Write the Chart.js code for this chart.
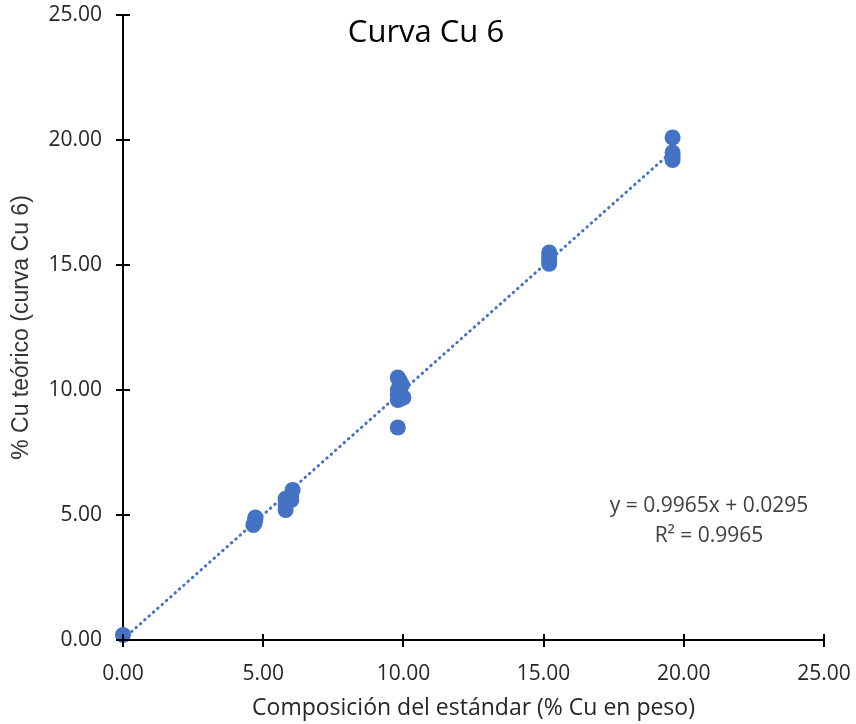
<!DOCTYPE html>
<html lang="es">
<head>
<meta charset="utf-8">
<title>Curva Cu 6</title>
<script src="https://cdn.jsdelivr.net/npm/chart.js@4.4.1/dist/chart.umd.min.js"></script>
<style>
  html, body { margin: 0; padding: 0; background: #fff; }
  #wrap { width: 856px; height: 724px; position: relative; }
</style>
</head>
<body>
<div id="wrap"><canvas id="curvaChart"></canvas></div>
<script>
// lecturas: composición del estándar (% Cu en peso) frente a % Cu teórico
const composicion = [0.00,
  4.65, 4.70, 4.72, 4.72,
  5.80, 5.80, 5.80, 6.00, 6.00, 6.05,
  9.80, 9.85, 9.90, 9.95, 9.80, 9.80, 9.90, 10.00, 9.80, 9.80,
  15.20, 15.20, 15.20, 15.20,
  19.60, 19.60, 19.60, 19.60];
const teorico = [0.20,
  4.60, 4.70, 4.85, 4.90,
  5.20, 5.40, 5.65, 5.60, 5.75, 6.00,
  10.50, 10.40, 10.30, 10.20, 10.00, 9.80, 9.65, 9.70, 9.60, 8.50,
  15.50, 15.35, 15.20, 15.05,
  20.10, 19.50, 19.35, 19.20];

const ejeTicks = [0, 5, 10, 15, 20, 25];

// línea de tendencia lineal
const pendiente = 0.9965;
const intercepto = 0.0295;
const r2 = 0.9965;

const AZUL = '#4472C4';
Chart.defaults.font.family = "'Open Sans', sans-serif";

const puntos = composicion.map((x, i) => ({ x: x, y: teorico[i] }));
const xMin = Math.min(...composicion);
const xMax = Math.max(...composicion);
const tendencia = [
  { x: xMin, y: pendiente * xMin + intercepto },
  { x: xMax, y: pendiente * xMax + intercepto }
];

// sin márgenes extra por las etiquetas: el área la fija layout.padding
function ajustarEje(s, ancho, alto) {
  if (ancho) s.width = ancho;
  if (alto) s.height = alto;
  s.paddingTop = 0;
  s.paddingBottom = 0;
  s.paddingLeft = 0;
  s.paddingRight = 0;
}

// marcas cruzadas en los ejes, título y ecuación
const decoracion = {
  id: 'decoracion',
  afterDraw(chart) {
    const ctx = chart.ctx;
    const sx = chart.scales.x, sy = chart.scales.y;
    const y0 = sy.getPixelForValue(0);
    const x0 = sx.getPixelForValue(0);
    ctx.save();
    ctx.strokeStyle = '#000';
    ctx.lineWidth = 2;
    ctx.beginPath();
    ejeTicks.forEach(v => {
      const px = Math.round(sx.getPixelForValue(v));
      ctx.moveTo(px, y0 - 6); ctx.lineTo(px, y0 + 7);
      const py = Math.round(sy.getPixelForValue(v));
      ctx.moveTo(x0 - 7, py); ctx.lineTo(x0 + 7, py);
    });
    ctx.stroke();

    ctx.fillStyle = '#000';
    ctx.textAlign = 'center';
    ctx.textBaseline = 'alphabetic';
    ctx.font = "31px 'Open Sans'";
    ctx.fillText('Curva Cu 6', 426, 42);

    ctx.fillStyle = '#404040';
    ctx.font = "21px 'Open Sans'";
    ctx.fillText('y = ' + pendiente.toFixed(4) + 'x + ' + intercepto.toFixed(4), 709, 512);
    ctx.fillText('R² = ' + r2.toFixed(4), 709, 542);
    ctx.restore();
  }
};

const ctxCurva = document.getElementById('curvaChart').getContext('2d');
const curvaChart = new Chart(ctxCurva, {
  type: 'scatter',
  data: {
    datasets: [{
      label: 'Curva Cu 6',
      data: puntos,
      backgroundColor: AZUL,
      borderWidth: 0,
      pointRadius: 8,
      pointHoverRadius: 8,
      clip: false
    }, {
      label: 'Lineal',
      data: tendencia,
      showLine: true,
      pointRadius: 0,
      borderColor: AZUL,
      borderWidth: 3,
      borderDash: [0.5, 5.3],
      borderCapStyle: 'round',
      clip: false
    }]
  },
  options: {
    responsive: true,
    maintainAspectRatio: false,
    animation: false,
    events: [],
    layout: { padding: { left: 0, right: 32, top: 15, bottom: 0 } },
    plugins: {
      legend: { display: false },
      tooltip: { enabled: false }
    },
    scales: {
      x: {
        type: 'linear',
        min: 0,
        max: 25,
        afterFit: s => ajustarEje(s, 0, 84),
        afterBuildTicks: s => { s.ticks = ejeTicks.map(v => ({ value: v })); },
        grid: { display: false, drawTicks: false },
        border: { display: true, color: '#000', width: 2 },
        ticks: {
          padding: 21,
          color: '#262626',
          font: { size: 21 },
          maxRotation: 0,
          callback: v => v.toFixed(2)
        },
        title: {
          display: true,
          text: 'Composición del estándar (% Cu en peso)',
          color: '#262626',
          font: { size: 23 },
          padding: { top: 0, bottom: 2 }
        }
      },
      y: {
        type: 'linear',
        min: 0,
        max: 25,
        afterFit: s => ajustarEje(s, 123, 0),
        afterBuildTicks: s => { s.ticks = ejeTicks.map(v => ({ value: v })); },
        grid: { display: false, drawTicks: false },
        border: { display: true, color: '#000', width: 2 },
        ticks: {
          padding: 21,
          color: '#262626',
          font: { size: 21 },
          callback: v => v.toFixed(2)
        },
        title: {
          display: true,
          text: '% Cu teórico (curva Cu 6)',
          color: '#333',
          font: { family: "'Liberation Sans', Arial, sans-serif", size: 23 },
          padding: { top: 8, bottom: 0 }
        }
      }
    }
  },
  plugins: [decoracion]
});
</script>
</body>
</html>
